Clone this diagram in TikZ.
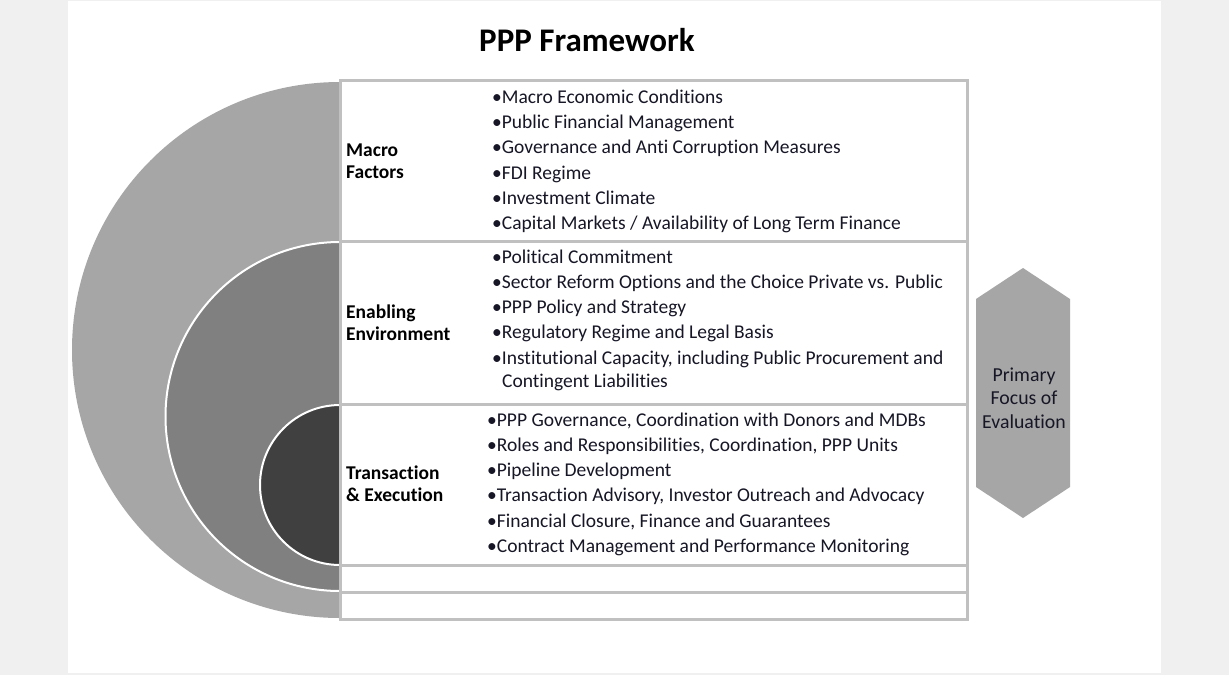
\documentclass[tikz,border=0pt]{standalone}
\usepackage{fontspec}
\setmainfont{Carlito}[Ligatures=NoCommon]
\usepackage{tikz}
\definecolor{PageGray}{RGB}{240,240,240}
\definecolor{RingOuter}{RGB}{166,166,166}
\definecolor{RingMiddle}{RGB}{128,128,128}
\definecolor{RingInner}{RGB}{64,64,64}
\definecolor{GridGray}{RGB}{192,192,192}
\definecolor{InkDark}{RGB}{22,22,38}
\tikzset{
  rowlabel/.style={anchor=west,align=left,inner sep=0pt,
    font=\bfseries\fontsize{19.5}{22}\selectfont},
  bulletline/.style={anchor=base west,inner sep=0pt,text=InkDark,
    font=\fontsize{19.5}{24}\selectfont},
  tablerow/.style={draw=GridGray,line width=3pt,fill=white},
}

\begin{document}
\begin{tikzpicture}[x=1pt,y=-1pt]
  \useasboundingbox (0,0) rectangle (1229,675);
  \fill[PageGray] (0,0) rectangle (1229,675);
  \fill[white] (68,1) rectangle (1161,673);

  % nested half discs
  \coordinate (outer) at (340,350);
  \coordinate (middle) at (340,416.5);
  \coordinate (inner) at (340,485);
  \fill[RingOuter] (outer) ++(0,268) arc[start angle=90,end angle=270,radius=268] -- cycle;
  \filldraw[RingMiddle,draw=white,line width=2pt] (middle) ++(0,174.5) arc[start angle=90,end angle=270,radius=174.5] -- cycle;
  \filldraw[RingInner,draw=white,line width=2pt] (inner) ++(0,80) arc[start angle=90,end angle=270,radius=80] -- cycle;

  % table rows
  \draw[tablerow] (340,80) rectangle (967,241);
  \draw[tablerow] (340,241) rectangle (967,404);
  \draw[tablerow] (340,404) rectangle (967,565);
  \draw[tablerow] (340,565) rectangle (967,592);
  \draw[tablerow] (340,592) rectangle (967,619);

  \node[font=\bfseries\fontsize{33}{40}\selectfont] (title) at (587,40) {PPP Framework};

  \node[rowlabel] (macro) at (346,161) {Macro\\Factors};
  \node[rowlabel] (enabling) at (346,323) {Enabling\\Environment};
  \node[rowlabel] (transaction) at (346,484) {Transaction\\\& Execution};

  \foreach \txt [count=\i] in {Macro Economic Conditions,
      Public Financial Management,
      Governance and Anti Corruption Measures,
      FDI Regime,
      Investment Climate,
      Capital Markets / Availability of Long Term Finance}
    \node[bulletline] (mf\i) at (492,103.3+25.33*\i-25.33) {\textbullet\txt};

  \foreach \txt [count=\i] in {Political Commitment,
      Sector Reform Options and the Choice Private vs. Public,
      PPP Policy and Strategy,
      Regulatory Regime and Legal Basis,
      {Institutional Capacity, including Public Procurement and}}
    \node[bulletline] (ee\i) at (492,263+25.33*\i-25.33) {\textbullet\txt};
  \node[bulletline] (ee5b) at (502,387) {Contingent Liabilities};

  \foreach \txt [count=\i] in {{PPP Governance, Coordination with Donors and MDBs},
      {Roles and Responsibilities, Coordination, PPP Units},
      Pipeline Development,
      {Transaction Advisory, Investor Outreach and Advocacy},
      {Financial Closure, Finance and Guarantees},
      Contract Management and Performance Monitoring}
    \node[bulletline] (te\i) at (487,426+25.33*\i-25.33) {\textbullet\txt};

  % evaluation hexagon
  \fill[RingOuter] (1023,268) -- (1070,299) -- (1070,487) -- (1023,518)
    -- (976,487) -- (976,299) -- cycle;
  \node[align=center,text=InkDark,font=\fontsize{19.8}{23.5}\selectfont] (focus) at (1024,398) {Primary\\Focus of\\Evaluation};
\end{tikzpicture}
\end{document}
